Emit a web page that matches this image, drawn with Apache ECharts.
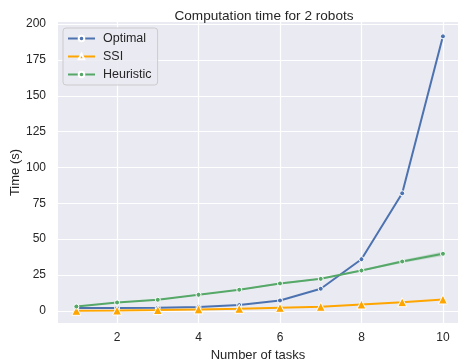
<!DOCTYPE html>
<html>
<head>
<meta charset="utf-8">
<script src="https://cdn.jsdelivr.net/npm/echarts@6/dist/echarts.min.js"></script>
<style>
  html, body { margin: 0; padding: 0; background: #fff; }
  #chart { width: 458px; height: 364px; }
</style>
</head>
<body>
<div id="chart"></div>
<script>
// Number of tasks on the x axis
const tasks = [1, 2, 3, 4, 5, 6, 7, 8, 9, 10];
// Mean computation time (seconds) per planner
const optimal = [1.9, 1.9, 2.1, 2.6, 4.0, 7.2, 15.4, 36.0, 82.0, 191.5];
const ssi = [0.0, 0.2, 0.5, 1.0, 1.4, 2.1, 2.8, 4.4, 6.0, 7.9];
const heuristic = [3.0, 5.8, 7.7, 11.2, 14.7, 19.1, 22.3, 28.1, 34.4, 39.8];
// Confidence band half-widths for the heuristic planner
const heuristicSpread = [0.2, 0.3, 0.3, 0.4, 0.4, 0.7, 0.5, 0.5, 1.0, 1.5];
// Tick labels
const xTicks = [2, 4, 6, 8, 10];
const yTicks = [0, 25, 50, 75, 100, 125, 150, 175, 200];

const BLUE = '#4C72B0', ORANGE = '#FFA500', GREEN = '#55A868';
const FONT = 'Liberation Sans, Arial, sans-serif';

const pairs = arr => tasks.map((t, i) => [t, arr[i]]);
const bandData = tasks.map((t, i) => [t, heuristic[i] - heuristicSpread[i], heuristic[i] + heuristicSpread[i]]);

const chart = echarts.init(document.getElementById('chart'), null, { renderer: 'canvas' });

const lineSeries = (name, data, color, symbol, size) => ({
  name, type: 'line', data: pairs(data),
  symbol, symbolSize: size, showSymbol: true,
  lineStyle: { color, width: 2 },
  itemStyle: { color, borderColor: '#fff', borderWidth: 1 },
  z: 3, animation: false
});

// Shaded confidence band drawn as one polygon through the axis scales
function renderBand(params, api) {
  if (params.dataIndex !== 0) return null;
  const upper = [], lowerPts = [];
  for (let i = 0; i < bandData.length; i++) {
    upper.push(api.coord([bandData[i][0], bandData[i][2]]));
    lowerPts.unshift(api.coord([bandData[i][0], bandData[i][1]]));
  }
  return {
    type: 'polygon',
    shape: { points: upper.concat(lowerPts) },
    style: { fill: GREEN, opacity: 0.25 },
    silent: true
  };
}

chart.setOption({
  animation: false,
  backgroundColor: '#fff',
  title: {
    text: 'Computation time for 2 robots',
    left: 259, top: 4, textAlign: 'center',
    textStyle: { fontFamily: FONT, fontSize: 13.6, fontWeight: 'normal', color: '#262626' }
  },
  legend: {
    left: 63, top: 28, orient: 'vertical',
    data: ['Optimal', 'SSI', 'Heuristic'],
    itemWidth: 27, itemHeight: 7, itemGap: 5,
    backgroundColor: 'rgba(234,234,242,0.85)',
    borderColor: '#cccccc', borderWidth: 1, borderRadius: 3,
    padding: [4, 6, 4, 4],
    textStyle: { fontFamily: FONT, fontSize: 12.5, color: '#262626', padding: [0, 0, 0, 3] }
  },
  grid: { left: 58, right: 0, top: 22, bottom: 41, containLabel: false,
          outerBoundsMode: 'none',
          show: true, backgroundColor: '#EAEAF2', borderWidth: 0 },
  xAxis: {
    type: 'value', min: 0.55, max: 10.37,
    name: 'Number of tasks', nameLocation: 'middle', nameGap: 26,
    nameTextStyle: { fontFamily: FONT, fontSize: 13, color: '#262626' },
    axisLine: { show: false }, axisTick: { show: false, customValues: xTicks },
    axisLabel: { customValues: xTicks, fontFamily: FONT, fontSize: 12, color: '#262626', margin: 9 },
    splitLine: { show: true, lineStyle: { color: '#fff', width: 1.2 } }
  },
  yAxis: {
    type: 'value', min: -8.5, max: 201.5,
    name: 'Time (s)', nameLocation: 'middle', nameGap: 36, nameRotate: 90,
    nameMoveOverlap: false,
    nameTextStyle: { fontFamily: FONT, fontSize: 13, color: '#262626' },
    axisLine: { show: false }, axisTick: { show: false, customValues: yTicks },
    axisLabel: { customValues: yTicks, fontFamily: FONT, fontSize: 12, color: '#262626', margin: 12 },
    splitLine: { show: true, lineStyle: { color: '#fff', width: 1.2 } }
  },
  series: [
    {
      name: 'band', type: 'custom', data: bandData, renderItem: renderBand,
      encode: { x: 0, y: [1, 2] }, silent: true, z: 1
    },
    lineSeries('Optimal', optimal, BLUE, 'circle', 5),
    lineSeries('SSI', ssi, ORANGE, 'triangle', 9),
    lineSeries('Heuristic', heuristic, GREEN, 'circle', 5)
  ]
});
</script>
</body>
</html>
